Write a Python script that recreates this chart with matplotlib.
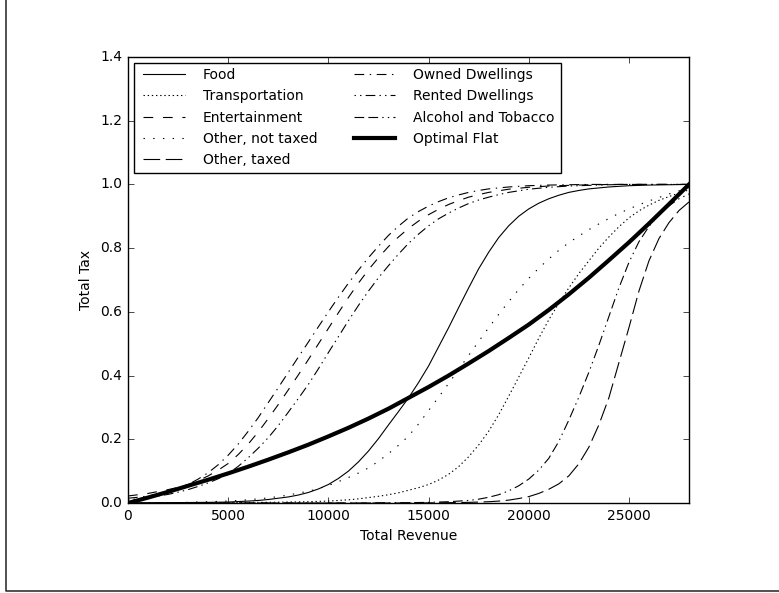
import matplotlib
matplotlib.use("Agg")
import matplotlib.pyplot as plt
from matplotlib.lines import Line2D
import numpy as np

# revenue grid (every 500) and the tax share per category
revenue = np.arange(0, 28001, 500)

food = [0.0, 0.0, 0.0005, 0.001, 0.001, 0.0012, 0.0015, 0.0018, 0.002, 0.0025,
        0.003, 0.0045, 0.006, 0.008, 0.011, 0.015, 0.019, 0.025, 0.033, 0.044,
        0.058, 0.077, 0.1, 0.129, 0.163, 0.202, 0.245, 0.287, 0.33, 0.378,
        0.43, 0.49, 0.55, 0.613, 0.675, 0.735, 0.787, 0.833, 0.87, 0.9,
        0.923, 0.941, 0.955, 0.966, 0.975, 0.981, 0.986, 0.989, 0.992, 0.994,
        0.996, 0.997, 0.998, 0.9985, 0.999, 0.9995, 1.0]
transportation = [0.0, 0.0, 0.0, 0.0, 0.0, 0.0, 0.0, 0.0005, 0.001, 0.001,
                  0.001, 0.0015, 0.002, 0.002, 0.002, 0.0025, 0.003, 0.0035, 0.004, 0.005,
                  0.006, 0.008, 0.01, 0.013, 0.017, 0.021, 0.026, 0.032, 0.04, 0.048,
                  0.058, 0.072, 0.09, 0.114, 0.145, 0.182, 0.225, 0.277, 0.335, 0.395,
                  0.455, 0.517, 0.575, 0.627, 0.675, 0.72, 0.76, 0.8, 0.835, 0.867,
                  0.895, 0.917, 0.935, 0.95, 0.962, 0.973, 0.983]
entertainment = [0.022, 0.026, 0.03, 0.036, 0.042, 0.049, 0.058, 0.07, 0.085, 0.103,
                 0.124, 0.152, 0.185, 0.223, 0.265, 0.309, 0.355, 0.402, 0.45, 0.499,
                 0.548, 0.597, 0.645, 0.69, 0.732, 0.77, 0.805, 0.835, 0.862, 0.885,
                 0.905, 0.922, 0.937, 0.949, 0.96, 0.968, 0.975, 0.98, 0.985, 0.988,
                 0.991, 0.993, 0.995, 0.996, 0.997, 0.998, 0.999, 0.999, 1.0, 1.0,
                 1.0, 1.0, 1.0, 1.0, 1.0, 1.0, 1.0]
other_not_taxed = [0.0, 0.0, 0.0, 0.0005, 0.001, 0.0015, 0.002, 0.003, 0.004, 0.005,
                   0.006, 0.008, 0.01, 0.013, 0.016, 0.02, 0.025, 0.031, 0.037, 0.045,
                   0.055, 0.067, 0.08, 0.094, 0.11, 0.131, 0.155, 0.181, 0.21, 0.248,
                   0.29, 0.332, 0.375, 0.419, 0.463, 0.507, 0.55, 0.592, 0.632, 0.67,
                   0.705, 0.737, 0.766, 0.793, 0.817, 0.838, 0.858, 0.876, 0.893, 0.909,
                   0.923, 0.936, 0.948, 0.959, 0.97, 0.98, 0.99]
other_taxed = [0.0, 0.0, 0.0, 0.0, 0.0, 0.0, 0.0, 0.0, 0.0, 0.0,
               0.0, 0.0, 0.0, 0.0, 0.0, 0.0, 0.0, 0.0, 0.0, 0.0,
               0.0, 0.0, 0.0, 0.0, 0.0, 0.0, 0.0, 0.0, 0.0, 0.0,
               0.0005, 0.0007, 0.001, 0.0015, 0.002, 0.003, 0.004, 0.006, 0.009, 0.014,
               0.02, 0.03, 0.043, 0.06, 0.085, 0.123, 0.175, 0.245, 0.33, 0.44,
               0.55, 0.665, 0.76, 0.83, 0.88, 0.918, 0.945]
owned_dwellings = [0.015, 0.018, 0.022, 0.028, 0.035, 0.045, 0.058, 0.075, 0.095, 0.12,
                   0.15, 0.185, 0.225, 0.268, 0.315, 0.362, 0.41, 0.458, 0.505, 0.553,
                   0.6, 0.646, 0.69, 0.731, 0.77, 0.806, 0.84, 0.869, 0.895, 0.915,
                   0.932, 0.946, 0.958, 0.967, 0.975, 0.981, 0.986, 0.989, 0.992, 0.994,
                   0.996, 0.997, 0.998, 0.9985, 0.999, 0.9995, 1.0, 1.0, 1.0, 1.0,
                   1.0, 1.0, 1.0, 1.0, 1.0, 1.0, 1.0]
rented_dwellings = [0.01, 0.013, 0.017, 0.022, 0.027, 0.034, 0.042, 0.052, 0.063, 0.076,
                    0.092, 0.115, 0.142, 0.172, 0.205, 0.243, 0.285, 0.328, 0.372, 0.421,
                    0.472, 0.522, 0.572, 0.62, 0.665, 0.707, 0.745, 0.781, 0.815, 0.844,
                    0.87, 0.892, 0.91, 0.926, 0.94, 0.951, 0.96, 0.968, 0.975, 0.98,
                    0.985, 0.988, 0.991, 0.993, 0.995, 0.996, 0.997, 0.998, 0.999, 0.9995,
                    1.0, 1.0, 1.0, 1.0, 1.0, 1.0, 1.0]
alcohol_tobacco = [0.0, 0.0, 0.0, 0.0, 0.0, 0.0, 0.0, 0.0, 0.0, 0.0,
                   0.0, 0.0, 0.0, 0.0, 0.0, 0.0, 0.0, 0.0, 0.0, 0.0,
                   0.0, 0.0, 0.0, 0.0, 0.0, 0.0005, 0.001, 0.001, 0.001, 0.0015,
                   0.002, 0.003, 0.004, 0.006, 0.008, 0.012, 0.018, 0.026, 0.038, 0.054,
                   0.075, 0.103, 0.14, 0.193, 0.26, 0.332, 0.41, 0.495, 0.585, 0.675,
                   0.755, 0.82, 0.868, 0.905, 0.933, 0.955, 0.97]
optimal_flat = [0.0, 0.0085, 0.017, 0.026, 0.035, 0.0445, 0.054, 0.0635, 0.073, 0.083,
                0.093, 0.1035, 0.114, 0.125, 0.136, 0.1475, 0.159, 0.171, 0.183, 0.196,
                0.209, 0.2225, 0.236, 0.2505, 0.265, 0.2805, 0.296, 0.313, 0.33, 0.347,
                0.364, 0.382, 0.40, 0.419, 0.438, 0.4575, 0.477, 0.4975, 0.518, 0.539,
                0.56, 0.583, 0.606, 0.6305, 0.655, 0.681, 0.707, 0.7345, 0.762, 0.79,
                0.818, 0.8475, 0.877, 0.9075, 0.938, 0.969, 1.0]

plt.style.use("classic")
plt.rcParams["figure.facecolor"] = "white"
plt.rcParams["savefig.facecolor"] = "white"
plt.rcParams["font.size"] = 10
plt.rcParams["font.family"] = ["DejaVu Sans"]

fig = plt.figure(figsize=(7.79, 5.93), dpi=100)
ax = fig.add_axes([128 / 779, 1 - 503 / 593, 561 / 779, 446 / 593])

lw = 0.8
ax.plot(revenue, food, color="k", lw=lw, ls="-", label="Food")
ax.plot(revenue, transportation, color="k", lw=lw, ls=(0, (1, 2)), label="Transportation")
ax.plot(revenue, entertainment, color="k", lw=lw, ls=(0, (7, 7)), label="Entertainment")
ax.plot(revenue, other_not_taxed, color="k", lw=lw, ls=(0, (1, 6)), label="Other, not taxed")
ax.plot(revenue, other_taxed, color="k", lw=lw, ls=(0, (12, 4)), label="Other, taxed")
ax.plot(revenue, owned_dwellings, color="k", lw=lw, ls=(0, (7, 4, 1, 4)), label="Owned Dwellings")
ax.plot(revenue, rented_dwellings, color="k", lw=lw, ls=(0, (1, 3, 1, 3, 7, 3)),
        label="Rented Dwellings")
ax.plot(revenue, alcohol_tobacco, color="k", lw=lw, ls=(0, (7, 3, 7, 3, 1, 3, 1, 3)),
        label="Alcohol and Tobacco")
ax.plot(revenue, optimal_flat, color="k", lw=3, ls="-", label="Optimal Flat")

ax.set_xlim(0, 28000)
ax.set_ylim(0, 1.4)
ax.set_xticks([0, 5000, 10000, 15000, 20000, 25000])
ax.set_yticks(np.arange(0, 1.41, 0.2))
ax.set_xlabel("Total Revenue", fontsize=10)
ax.set_ylabel("Total Tax", fontsize=10)
ax.tick_params(labelsize=10)

ax.legend(loc="upper left", ncol=2, fontsize=10, handlelength=3.6, handletextpad=1.0,
          columnspacing=2.3, labelspacing=0.52, borderpad=0.4, borderaxespad=0.4,
          fancybox=False, frameon=True)

# partial frame around the picture (left and bottom edges)
fig.add_artist(Line2D([6 / 779, 6 / 779, 1.0], [1.0, 1 - 591 / 593, 1 - 591 / 593],
                      transform=fig.transFigure, color="#333333", lw=1.2))

fig.savefig("out.png", dpi=100)
